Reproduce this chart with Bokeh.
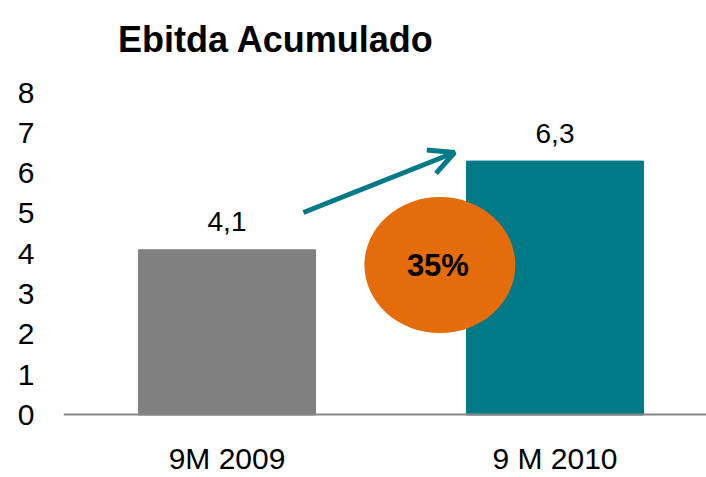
from bokeh.plotting import figure
from bokeh.models import Range1d, FixedTicker, ColumnDataSource, Label, Arrow, OpenHead
from bokeh.core.properties import value
from bokeh.embed import file_html
from bokeh.resources import INLINE

# ---- data ----
categories = ["9M 2009", "9 M 2010"]
ebitda = [4.1, 6.3]
y_ticks = [0, 1, 2, 3, 4, 5, 6, 7, 8]
title_text = "Ebitda Acumulado"
growth_text = "35%"

# ---- styles ----
bar_colors = ["#808080", "#007A87"]
teal = "#007A87"
orange = "#E46C0A"
FONT = "Liberation Sans"

x_pos = [i + 0.5 for i in range(len(categories))]
value_labels = [f"{v:.1f}".replace(".", ",") for v in ebitda]

src = ColumnDataSource(dict(x=x_pos, top=ebitda, color=bar_colors, label=value_labels))

p = figure(width=706, height=477, output_backend="svg", toolbar_location=None,
           x_range=Range1d(0.0015, 1.9619), y_range=Range1d(-1.551, 10.285),
           min_border_left=63, min_border_right=0, min_border_top=0, min_border_bottom=0)
p.outline_line_color = None
p.xgrid.visible = False
p.ygrid.visible = False
p.background_fill_color = "white"
p.border_fill_color = "white"

# y axis
p.yaxis.ticker = FixedTicker(ticks=y_ticks)
p.yaxis.axis_line_color = None
p.yaxis.major_tick_line_color = None
p.yaxis.minor_tick_line_color = None
p.yaxis.major_tick_out = 0
p.yaxis.minor_tick_out = 0
p.yaxis.major_label_standoff = 29
p.yaxis.major_label_text_font = FONT
p.yaxis.major_label_text_font_size = "30px"
p.yaxis.major_label_text_color = "black"

# x axis at zero
p.xaxis.fixed_location = 0
p.xaxis.ticker = FixedTicker(ticks=x_pos)
p.xaxis.major_label_overrides = {x: c for x, c in zip(x_pos, categories)}
p.xaxis.axis_line_color = "#868686"
p.xaxis.axis_line_width = 2
p.xaxis.major_tick_line_color = None
p.xaxis.minor_tick_line_color = None
p.xaxis.major_tick_out = 0
p.xaxis.minor_tick_out = 0
p.xaxis.major_label_standoff = 27
p.xaxis.major_label_text_font = FONT
p.xaxis.major_label_text_font_size = "30px"
p.xaxis.major_label_text_color = "black"

# bars
p.vbar(x="x", top="top", bottom=0, width=0.54, color="color", source=src)

# value labels
p.text(x="x", y="top", text="label", source=src, y_offset=-28,
       text_align="center", text_baseline="alphabetic",
       text_font=value(FONT), text_font_size="28px", text_color="black")

# growth arrow
p.add_layout(Arrow(end=OpenHead(size=25, line_color=teal, line_width=5),
                   x_start=0.733, y_start=5.025, x_end=1.194, y_end=6.514,
                   line_color=teal, line_width=5))

# growth bubble
p.ellipse(x=[1.149], y=[3.72], width=[0.46], height=[3.375],
          fill_color=orange, line_color=None)
p.text(x=[1.143], y=[3.72], text=[growth_text], text_align="center",
       text_baseline="middle", text_font=value(FONT), text_font_size="31px",
       text_font_style="bold", text_color="black")

# title
p.add_layout(Label(x=0.168, y=9.31, text=title_text, text_font=FONT,
                   text_font_size="36px", text_font_style="bold",
                   text_color="black", text_baseline="alphabetic"))

open("out.html", "w").write(file_html(p, INLINE))
